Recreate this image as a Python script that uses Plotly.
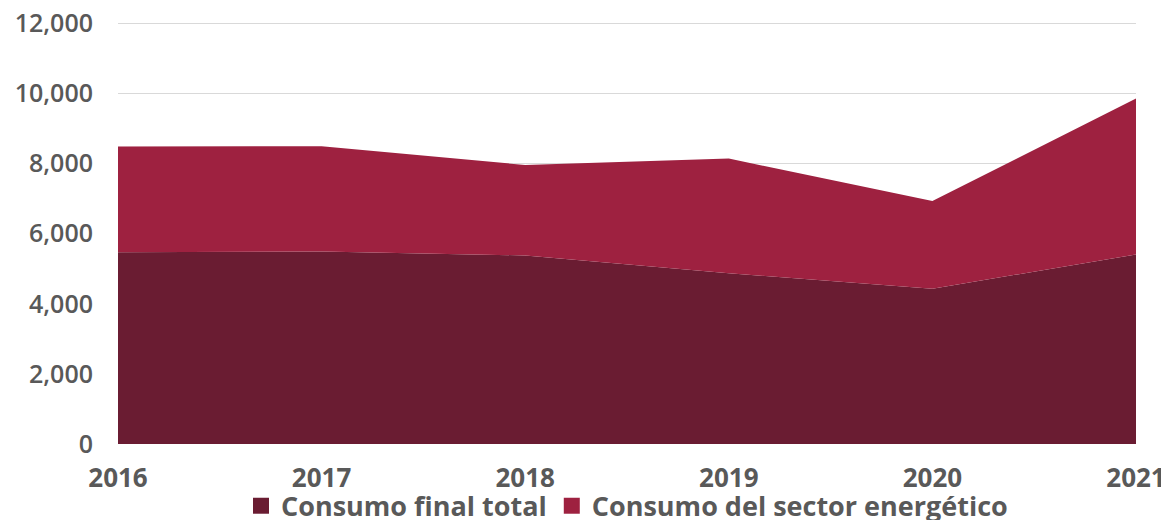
import plotly.graph_objects as go

years = [2016, 2017, 2018, 2019, 2020, 2021]
consumo_final = [5470, 5490, 5380, 4870, 4430, 5410]
sector_energetico = [3020, 3005, 2580, 3275, 2500, 4450]

color_final = "#6A1C32"
color_sector = "#9E2140"
font_color = "#595959"

fig = go.Figure()

fig.add_scatter(
    x=years, y=consumo_final, name="Consumo final total",
    mode="none", stackgroup="one", fillcolor=color_final,
    showlegend=False
)
fig.add_scatter(
    x=years, y=sector_energetico, name="Consumo del sector energético",
    mode="none", stackgroup="one", fillcolor=color_sector,
    showlegend=False
)

# legend entries as square markers
fig.add_scatter(
    x=[None], y=[None], mode="markers", name="Consumo final total",
    marker=dict(symbol="square", size=17, color=color_final)
)
fig.add_scatter(
    x=[None], y=[None], mode="markers", name="Consumo del sector energético",
    marker=dict(symbol="square", size=17, color=color_sector)
)

# page body has an 8px default margin, so the figure is sized to fit the window
fig.update_layout(
    width=1161, height=512,
    margin=dict(l=110, r=33, t=14, b=76),
    plot_bgcolor="white", paper_bgcolor="white",
    font=dict(family="Open Sans", size=24, color=font_color, weight="bold"),
    legend=dict(
        orientation="h", x=0.5, xanchor="center",
        yref="container", y=0.027, yanchor="middle",
        font=dict(size=27, color=font_color, weight="bold"),
        itemwidth=30, traceorder="normal", bgcolor="rgba(0,0,0,0)"
    ),
    hovermode=False,
)
fig.update_xaxes(
    range=[2016, 2021], tickvals=years, showgrid=False, zeroline=False,
    showline=False, ticks="", ticklabelstandoff=16, automargin=False,
    tickfont=dict(size=26, weight="bold"), ticklabeloverflow="allow"
)
# upper bound a touch above 12,000 so the top gridline is drawn
fig.update_yaxes(
    range=[0, 12040], dtick=2000, tickformat=",", showgrid=True,
    gridcolor="#D9D9D9", gridwidth=1, zeroline=False, showline=False,
    ticks="", ticklabelstandoff=24, automargin=False,
    tickfont=dict(size=25, weight=600), ticklabeloverflow="allow"
)

fig.write_html("out.html")
